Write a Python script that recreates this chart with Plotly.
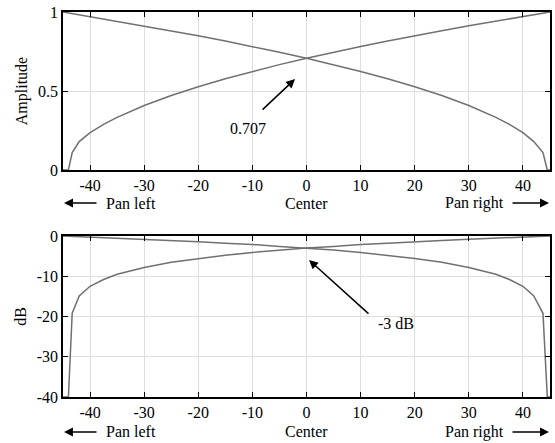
import plotly.graph_objects as go

# Pan position (degrees)
pan_angle = [-45, -44, -43.3, -42, -40, -37.5, -35, -30, -25, -20, -15, -10, -5, 0,
             5, 10, 15, 20, 25, 30, 35, 37.5, 40, 42, 43.7, 44.5, 45]
# Right-channel gain (rises from left to right)
amp_right = [0, 0, 0.11, 0.18, 0.236, 0.289, 0.333, 0.408, 0.471, 0.527, 0.577, 0.624, 0.667, 0.707,
             0.745, 0.782, 0.816, 0.850, 0.882, 0.913, 0.943, 0.957, 0.972, 0.983, 0.993, 0.997, 1.0]
# Left-channel gain (falls from left to right)
amp_left = [1.0, 0.994, 0.990, 0.983, 0.972, 0.957, 0.943, 0.913, 0.882, 0.850, 0.816, 0.782, 0.745, 0.707,
            0.667, 0.624, 0.577, 0.527, 0.471, 0.408, 0.333, 0.289, 0.236, 0.18, 0.11, 0, 0]
# Same gains in dB (floored at -40)
db_right = [-40, -40, -19.2, -14.9, -12.5, -10.8, -9.5, -7.8, -6.5, -5.6, -4.8, -4.1, -3.5, -3.0,
            -2.6, -2.1, -1.8, -1.4, -1.1, -0.8, -0.5, -0.4, -0.25, -0.15, -0.06, -0.03, 0]
db_left = [0, -0.05, -0.09, -0.15, -0.25, -0.4, -0.5, -0.8, -1.1, -1.4, -1.8, -2.1, -2.6, -3.0,
           -3.5, -4.1, -4.8, -5.6, -6.5, -7.8, -9.5, -10.8, -12.5, -14.9, -19.2, -40, -40]

x_tickvals = [-40, -30, -20, -10, 0, 10, 20, 30, 40]
x_ticktext = ["-40", "-30", "-20", "-10", "0", "10", "20", "30", "40"]
amp_tickvals = [0, 0.5, 1]
amp_ticktext = ["0", "0.5", "1"]
db_tickvals = [-40, -30, -20, -10, 0]
db_ticktext = ["-40", "-30", "-20", "-10", "0"]

FONT = "'Liberation Serif', 'Times New Roman', 'DejaVu Serif', serif"
FS = 16
W, H = 555, 443
ML, MR, MT, MB = 63, 3, 12, 46
PW = W - ML - MR
PH = H - MT - MB

def px_x(px):
    return (px - ML) / PW

def px_y(py):
    return (H - MB - py) / PH

line_col = "#707070"

fig = go.Figure()
for xs, ys, xa, ya in ((pan_angle, amp_right, "x", "y"), (pan_angle, amp_left, "x", "y"),
                       (pan_angle, db_right, "x2", "y2"), (pan_angle, db_left, "x2", "y2")):
    fig.add_trace(go.Scatter(x=xs, y=ys, mode="lines", line=dict(color=line_col, width=1.5),
                             xaxis=xa, yaxis=ya, showlegend=False, hoverinfo="skip"))

axis_common = dict(showline=True, linecolor="black", linewidth=1.5, mirror="ticks",
                   ticks="inside", ticklen=5, tickcolor="black", tickwidth=1,
                   showgrid=True, gridcolor="#dedede", gridwidth=1, zeroline=False,
                   tickfont=dict(family=FONT, size=FS, color="black"))

top_dom = [px_y(170), px_y(12)]
bot_dom = [px_y(397), px_y(236)]

fig.update_layout(
    width=W, height=H,
    margin=dict(l=ML, r=MR, t=MT, b=MB),
    plot_bgcolor="white", paper_bgcolor="white",
    font=dict(family=FONT, size=FS, color="black"),
    xaxis=dict(axis_common, range=[-45, 45], tickvals=x_tickvals, ticktext=x_ticktext,
               anchor="y", domain=[0, 1]),
    yaxis=dict(axis_common, range=[0, 1], tickvals=amp_tickvals, ticktext=amp_ticktext,
               anchor="x", domain=top_dom,
               title=dict(text="Amplitude", font=dict(family=FONT, size=FS), standoff=6)),
    xaxis2=dict(axis_common, range=[-45, 45], tickvals=x_tickvals, ticktext=x_ticktext,
                anchor="y2", domain=[0, 1]),
    yaxis2=dict(axis_common, range=[-40, 0], tickvals=db_tickvals, ticktext=db_ticktext,
                anchor="x2", domain=bot_dom,
                title=dict(text="dB", font=dict(family=FONT, size=FS), standoff=6)),
)

ann = []
# Direction labels under each panel
for row_py in (203, 432):
    yp = px_y(row_py)
    ann.append(dict(xref="paper", yref="paper", x=px_x(104), y=yp, text="Pan left",
                    showarrow=False, xanchor="left", yanchor="middle",
                    font=dict(family=FONT, size=FS)))
    ann.append(dict(xref="paper", yref="paper", x=px_x(307), y=yp, text="Center",
                    showarrow=False, xanchor="center", yanchor="middle",
                    font=dict(family=FONT, size=FS)))
    ann.append(dict(xref="paper", yref="paper", x=px_x(508), y=yp, text="Pan right",
                    showarrow=False, xanchor="right", yanchor="middle",
                    font=dict(family=FONT, size=FS)))
    ann.append(dict(xref="paper", yref="paper", x=px_x(64), y=yp, text="",
                    showarrow=True, ax=34, ay=0, arrowhead=2, arrowsize=1.2,
                    arrowwidth=1.5, arrowcolor="black"))
    ann.append(dict(xref="paper", yref="paper", x=px_x(551), y=yp, text="",
                    showarrow=True, ax=-38, ay=0, arrowhead=2, arrowsize=1.2,
                    arrowwidth=1.5, arrowcolor="black"))

# 0.707 callout
ann.append(dict(xref="paper", yref="paper", x=px_x(296), y=px_y(79), text="",
                showarrow=True, ax=-34, ay=32, arrowhead=2, arrowsize=1.2,
                arrowwidth=1.5, arrowcolor="black"))
ann.append(dict(xref="paper", yref="paper", x=px_x(249), y=px_y(128), text="0.707",
                showarrow=False, xanchor="center", yanchor="middle",
                font=dict(family=FONT, size=FS)))
# -3 dB callout
ann.append(dict(xref="paper", yref="paper", x=px_x(310), y=px_y(260), text="",
                showarrow=True, ax=61, ay=55, arrowhead=2, arrowsize=1.2,
                arrowwidth=1.5, arrowcolor="black"))
ann.append(dict(xref="paper", yref="paper", x=px_x(397), y=px_y(323), text="-3 dB",
                showarrow=False, xanchor="center", yanchor="middle",
                font=dict(family=FONT, size=FS)))

fig.update_layout(annotations=ann)
fig.write_html("out.html", config={"displayModeBar": False},
               post_script="document.body.style.margin='0px';document.body.style.overflow='hidden';")
